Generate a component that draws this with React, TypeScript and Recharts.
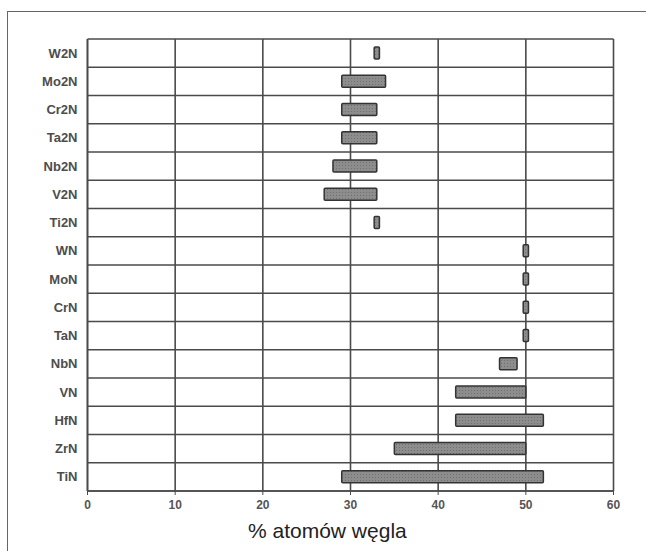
import { Bar, BarChart, CartesianGrid, XAxis, YAxis } from "recharts";

const categories = ["W2N", "Mo2N", "Cr2N", "Ta2N", "Nb2N", "V2N", "Ti2N", "WN", "MoN", "CrN", "TaN", "NbN", "VN", "HfN", "ZrN", "TiN"];
const lowValues = [32.7, 29, 29, 29, 28, 27, 32.7, 49.7, 49.7, 49.7, 49.7, 47, 42, 42, 35, 29];
const highValues = [33.3, 34, 33, 33, 33, 33, 33.3, 50.3, 50.3, 50.3, 50.3, 49, 50, 52, 50, 52];
const xTicks = [0, 10, 20, 30, 40, 50, 60];

const data = categories.map((name, i) => ({ name, range: [lowValues[i], highValues[i]] }));

export default function App() {
  // row separators sit between categories, not at their centres
  const rowLines = ({ offset }: any) =>
    Array.from({ length: categories.length + 1 }, (_, i) => offset.top + (i * offset.height) / categories.length);

  return (
    <div style={{ position: "absolute", left: 0, top: 0, width: 646, height: 551, background: "#fff", fontFamily: "'Liberation Sans', Arial, sans-serif" }}>
      <div style={{ position: "absolute", left: 7, top: 11, width: 660, height: 560, borderTop: "1px solid #666", borderLeft: "1px solid #666" }} />
      <div style={{ position: "absolute", left: 0, top: 0 }}>
        <BarChart
          width={646}
          height={551}
          data={data}
          layout="vertical"
          margin={{ top: 39, right: 32.5, left: 7.5, bottom: 30 }}
          barSize={12}
        >
          <defs>
            <pattern id="dots" width="3" height="3" patternUnits="userSpaceOnUse">
              <rect width="3" height="3" fill="#8d8d8d" />
              <rect width="1" height="1" fill="#6f6f6f" />
            </pattern>
          </defs>
          <CartesianGrid
            stroke="#4a4a4a"
            strokeWidth={1.6}
            horizontalCoordinatesGenerator={rowLines}
          />
          <XAxis
            type="number"
            domain={[0, 60]}
            ticks={xTicks}
            height={30}
            tickSize={4}
            tickMargin={5}
            axisLine={{ stroke: "#4a4a4a", strokeWidth: 1.6 }}
            tickLine={{ stroke: "#4a4a4a" }}
            tick={{ fill: "#555", fontSize: 12, fontWeight: "bold", fontFamily: "'Liberation Sans', Arial, sans-serif" }}
          />
          <YAxis
            type="category"
            dataKey="name"
            width={80}
            tickSize={0}
            tickMargin={10}
            interval={0}
            axisLine={{ stroke: "#4a4a4a", strokeWidth: 1.6 }}
            tickLine={false}
            tick={{ fill: "#4d4d4d", fontSize: 13, fontWeight: "bold", fontFamily: "'Liberation Sans', Arial, sans-serif" }}
          />
          <Bar dataKey="range" fill="url(#dots)" stroke="#333" strokeWidth={1.5} radius={1} isAnimationActive={false} />
        </BarChart>
      </div>
      <div style={{ position: "absolute", left: 248, top: 519, fontSize: 21, color: "#222", whiteSpace: "nowrap" }}>
        % atomów węgla
      </div>
    </div>
  );
}
